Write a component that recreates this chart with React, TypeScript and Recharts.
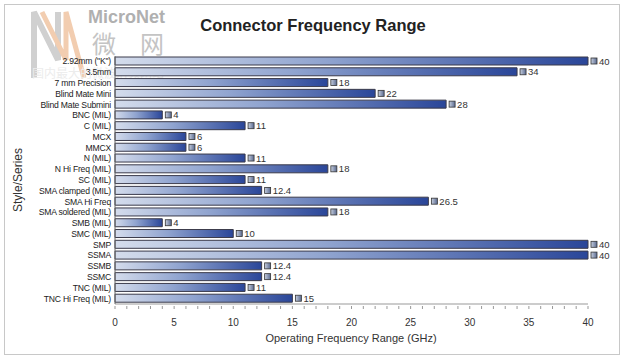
import { Bar, BarChart, LabelList, XAxis, YAxis } from "recharts";

const connectors = [
  "2.92mm (\"K\")",
  "3.5mm",
  "7 mm Precision",
  "Blind Mate Mini",
  "Blind Mate Submini",
  "BNC (MIL)",
  "C (MIL)",
  "MCX",
  "MMCX",
  "N (MIL)",
  "N Hi Freq (MIL)",
  "SC (MIL)",
  "SMA clamped (MIL)",
  "SMA Hi Freq",
  "SMA soldered (MIL)",
  "SMB (MIL)",
  "SMC (MIL)",
  "SMP",
  "SSMA",
  "SSMB",
  "SSMC",
  "TNC (MIL)",
  "TNC Hi Freq (MIL)",
];

const maxFreq = [40, 34, 18, 22, 28, 4, 11, 6, 6, 11, 18, 11, 12.4, 26.5, 18, 4, 10, 40, 40, 12.4, 12.4, 11, 15];

// every minor tick, labels only on the multiples of 5
const xTicks = [
  0, 1, 2, 3, 4, 5, 6, 7, 8, 9, 10, 11, 12, 13, 14, 15, 16, 17, 18, 19, 20,
  21, 22, 23, 24, 25, 26, 27, 28, 29, 30, 31, 32, 33, 34, 35, 36, 37, 38, 39, 40,
];
const xLabels = ["0", "5", "10", "15", "20", "25", "30", "35", "40"];

const data = connectors.map((name, i) => ({ name, value: maxFreq[i] }));

const FONT = "'Liberation Sans', Arial, sans-serif";

function XTick(props: any) {
  const { x, y, payload } = props;
  const v = payload.value;
  const label = v % 5 === 0 ? xLabels[v / 5] : null;
  return (
    <g>
      <line x1={x} x2={x} y1={y} y2={y + 3} stroke="#999" />
      {label !== null && (
        <text x={x} y={y + 20} textAnchor="middle" fontSize={10} fill="#333" fontFamily={FONT}>
          {label}
        </text>
      )}
    </g>
  );
}

function YTick(props: any) {
  const { y, payload } = props;
  return (
    <text x={111} y={y} dy={3} textAnchor="end" fontSize={8.6} fill="#222" fontFamily={FONT} letterSpacing={-0.2}>
      {payload.value}
    </text>
  );
}

function ValueLabel(props: any) {
  const { x, y, width, height, value } = props;
  const ex = x + width;
  const cy = y + height / 2;
  return (
    <g>
      <rect x={ex + 3} y={cy - 3} width={6} height={6} fill="url(#chip)" stroke="#333" strokeWidth={0.8} />
      <text x={ex + 11} y={cy} dy={3.5} fontSize={9.5} fill="#333" fontFamily={FONT}>
        {value}
      </text>
    </g>
  );
}

export default function App() {
  return (
    <div style={{ position: "absolute", left: 0, top: 0, width: 624, height: 359, background: "#fff" }}>
      <div
        style={{
          position: "absolute",
          left: 4,
          top: 4,
          width: 614,
          height: 349,
          border: "1px solid #c8c8c8",
        }}
      />
      {/* faint watermark */}
      <svg width={624} height={359} style={{ position: "absolute", left: 0, top: 0 }}>
        <path d="M34 78 L34 12 L58 60 L58 12" fill="none" stroke="#d0d0d0" strokeWidth={6} />
        <path d="M42 12 L66 60 L66 12 L84 78" fill="none" stroke="#f2cdb0" strokeWidth={5} />
        <text x={88} y={23} fontSize={18} fontWeight="bold" fill="#b0b0b0" fontFamily={FONT}>
          MicroNet
        </text>
        <text x={92} y={53} fontSize={24} fill="#c4c4c4" fontFamily="'Noto Sans CJK SC'">
          微
        </text>
        <text x={140} y={53} fontSize={24} fill="#c4c4c4" fontFamily="'Noto Sans CJK SC'">
          网
        </text>
        <text x={32} y={78} fontSize={12} fill="#ececec" fontFamily="'Noto Sans CJK SC'">
          国内最大的微波射频网站
        </text>
      </svg>
      <div style={{ position: "absolute", left: 0, top: 0 }}>
        <BarChart
          width={624}
          height={359}
          data={data}
          layout="vertical"
          margin={{ top: 56, right: 36, bottom: 25, left: 0 }}
          barSize={8}
        >
          <defs>
            <linearGradient id="barFill" x1="0" y1="0" x2="1" y2="0">
              <stop offset="0%" stopColor="#d4dcec" />
              <stop offset="45%" stopColor="#8fa3cf" />
              <stop offset="100%" stopColor="#2a4699" />
            </linearGradient>
            <linearGradient id="chip" x1="0" y1="0" x2="1" y2="0">
              <stop offset="0%" stopColor="#c8d0e0" />
              <stop offset="100%" stopColor="#5a6a90" />
            </linearGradient>
          </defs>
          <XAxis
            type="number"
            domain={[0, 40]}
            ticks={xTicks}
            interval={0}
            height={30}
            tick={<XTick />}
            tickLine={false}
            axisLine={{ stroke: "#999" }}
            tickSize={0}
          />
          <YAxis
            type="category"
            dataKey="name"
            width={115}
            interval={0}
            tick={<YTick />}
            tickLine={false}
            axisLine={{ stroke: "#666" }}
          />
          <Bar dataKey="value" fill="url(#barFill)" stroke="#3a3a4a" strokeWidth={1} isAnimationActive={false}>
            <LabelList dataKey="value" content={<ValueLabel />} />
          </Bar>
          <text x={313} y={31} textAnchor="middle" fontSize={16.5} fontWeight="bold" fill="#222" fontFamily={FONT}>
            Connector Frequency Range
          </text>
          <text x={351} y={342} textAnchor="middle" fontSize={11} fill="#333" fontFamily={FONT}>
            Operating Frequency Range (GHz)
          </text>
          <text
            x={22}
            y={180}
            textAnchor="middle"
            fontSize={12}
            fill="#333"
            fontFamily={FONT}
            transform="rotate(-90 22 180)"
          >
            Style/Series
          </text>
        </BarChart>
      </div>
    </div>
  );
}
